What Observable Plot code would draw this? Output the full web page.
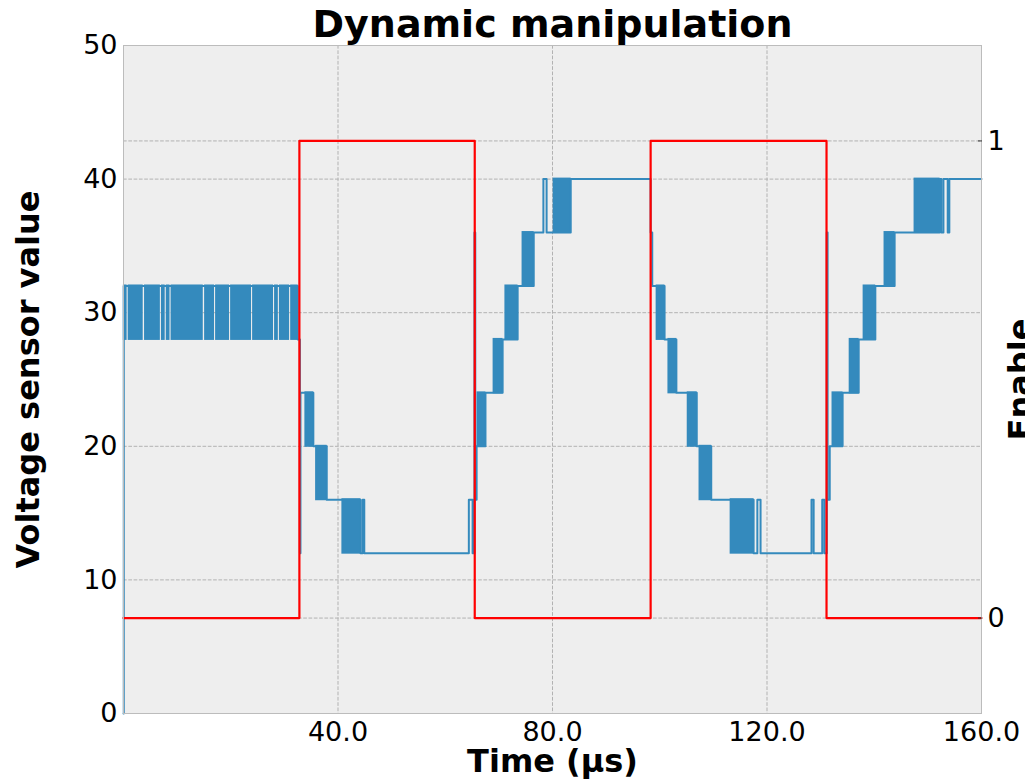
<!DOCTYPE html>
<html><head><meta charset="utf-8">
<script src="https://cdn.jsdelivr.net/npm/d3@7"></script>
<script src="https://cdn.jsdelivr.net/npm/@observablehq/plot@0.6"></script>
<style>body{margin:0;background:#fff;overflow:hidden;}</style>
</head><body><div id="chart"></div>
<script>
// Voltage sensor signal (step-after), time in µs
const voltTime = [0,0.05,32.5,32.9,33.0,35.4,37.9,44.2,44.6,44.9,64.4,65.1,65.45,65.6,65.85,67.5,70.7,73.5,76.5,78.3,78.9,83.4,98.3,98.6,100.9,103.1,106.9,109.6,117.5,118.2,118.8,128.3,128.7,130.3,130.7,131.15,131.3,131.7,134.1,137.1,140.2,143.8,152.2,152.5,152.9,153.7,154.0,160];
const voltValue = [0,32,28,12,24,20,16,12,16,12,16,12,36,16,20,24,28,32,36,40,36,40,36,32,28,24,20,16,12,16,12,16,12,16,12,36,16,20,24,28,32,36,40,36,40,36,40,40];

// Regions where the sensor toggles rapidly between two levels
const bandStart = [0.05,0.95,4.0,7.15,8.05,8.95,15.2,17.25,20.05,24.15,28.25,29.15,31.25,33.9,35.9,40.8,66.0,69.0,71.2,74.4,80.2,99.4,101.6,105.2,107.4,113.2,132.2,135.4,138.0,141.9,147.5];
const bandEnd   = [0.6,3.6,6.8,7.7,8.6,14.8,16.9,19.7,23.8,27.9,28.8,30.9,32.5,35.4,37.9,44.2,67.5,70.7,73.5,76.5,83.4,100.9,103.1,106.9,109.6,117.5,134.1,137.1,140.2,143.8,152.2];
const bandLow   = [28,28,28,28,28,28,28,28,28,28,28,28,28,20,16,12,20,24,28,32,36,28,24,20,16,12,20,24,28,32,36];
const bandHigh  = [32,32,32,32,32,32,32,32,32,32,32,32,32,24,20,16,24,28,32,36,40,32,28,24,20,16,24,28,32,36,40];

// Enable signal (step-after)
const enableTime  = [0,32.8,65.5,98.3,131.1,160];
const enableValue = [0,1,0,1,0,0];

const xTicks = [40,80,120,160];
const xGridTicks = [40,80,120];
const yTicks = [0,10,20,30,40,50];
const yGridTicks = [10,20,30,40];
const enableTicks = [0,1];
const enableDomain = [-0.2,1.2];
const yDomain = [0,50];

const blue = "#348ABD";
const toLeft = e => (e - enableDomain[0]) / (enableDomain[1]-enableDomain[0]) * (yDomain[1]-yDomain[0]) + yDomain[0];
const fromLeft = v => (v - yDomain[0]) / (yDomain[1]-yDomain[0]) * (enableDomain[1]-enableDomain[0]) + enableDomain[0];

const volt = voltTime.map((t,i)=>({t, v: voltValue[i]}));
const bands = bandStart.map((s,i)=>({s, e: bandEnd[i], lo: bandLow[i], hi: bandHigh[i]}));
const enable = enableTime.map((t,i)=>({t, e: toLeft(enableValue[i])}));

const gridStyle = {stroke:"#b2b2b2", strokeOpacity:1, strokeDasharray:"3.7,1.6", strokeWidth:1};

const chart = Plot.plot({
  width: 1025, height: 781,
  marginTop: 45, marginBottom: 68, marginLeft: 123, marginRight: 44,
  style: {fontFamily: "'DejaVu Sans', sans-serif", fontSize: "27px", background: "#fff", overflow: "visible"},
  x: {domain: [0,160]},
  y: {domain: yDomain},
  marks: [
    Plot.frame({fill: "#eeeeee", stroke: null}),
    Plot.gridX(xGridTicks, gridStyle),
    Plot.gridY(yGridTicks, gridStyle),
    Plot.gridY(enableTicks.map(toLeft), gridStyle),
    Plot.rect(bands, {x1:"s", x2:"e", y1:"lo", y2:"hi", fill: blue, insetTop:-1, insetBottom:-1, insetLeft:-0.4, insetRight:-0.4}),
    Plot.line(volt, {x:"t", y:"v", curve:"step-after", stroke: blue, strokeWidth: 2}),
    Plot.line(enable, {x:"t", y:"e", curve:"step-after", stroke: "#ff0000", strokeWidth: 2.2}),
    Plot.frame({stroke: "#bcbcbc", strokeWidth: 1}),
    Plot.axisX(xTicks, {anchor:"bottom", tickSize:0, tickPadding:8, tickFormat: d3.format(".1f"), label:null, fontSize:27}),
    Plot.axisY(yTicks, {anchor:"left", tickSize:0, tickPadding:6, label:null, fontSize:27}),
    Plot.axisY(enableTicks.map(toLeft), {anchor:"right", tickSize:0, tickPadding:6, label:null, fontSize:27, tickFormat: v => String(Math.round(fromLeft(v)))}),
    Plot.axisY(enableTicks.map(toLeft), {anchor:"right", tickSize:4, dx:-4, label:null, stroke:"#333", tickFormat: () => ""}),
    Plot.text(["Dynamic manipulation"], {text: d=>d, frameAnchor:"top", dy:-9, lineAnchor:"bottom", fontSize:38, fontWeight:"bold"}),
    Plot.text(["Time (µs)"], {text: d=>d, frameAnchor:"bottom", dy:58, lineAnchor:"bottom", fontSize:32, fontWeight:"bold"}),
    Plot.text(["Voltage sensor value"], {text: d=>d, frameAnchor:"left", dx:-85, rotate:-90, textAnchor:"middle", lineAnchor:"bottom", fontSize:32, fontWeight:"bold"}),
    Plot.text(["Enable"], {text: d=>d, frameAnchor:"right", dx:49, rotate:-90, textAnchor:"middle", lineAnchor:"bottom", fontSize:32, fontWeight:"bold"})
  ]
});
document.getElementById("chart").appendChild(chart);
</script>
</body></html>
